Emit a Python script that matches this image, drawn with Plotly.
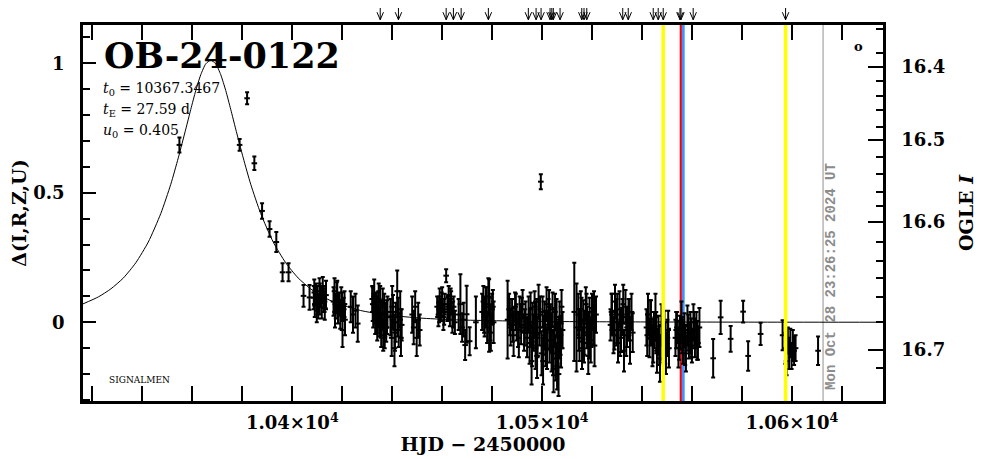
import plotly.graph_objects as go

# ---------------- data ----------------
hjd = [
    10354.8, 10378.9, 10381.9, 10384.8, 10387.9, 10390.9, 10393.6, 10396.1, 10398.5,
    10404.5, 10406.9,
    10408.6, 10409.0, 10409.5, 10410.0, 10410.4, 10410.9, 10411.3, 10411.8, 10412.2, 10412.6, 10413.0, 10413.5,
    10416.5, 10416.9, 10417.4, 10417.8, 10418.3, 10418.7, 10419.2, 10419.6, 10420.1, 10420.6, 10421.1,
    10423.4, 10424.3, 10425.3, 10426.2,
    10432.0, 10432.4, 10432.8, 10433.2, 10433.6, 10434.0, 10434.4, 10434.8, 10435.2, 10435.6, 10436.0, 10436.4,
    10436.8, 10437.2, 10437.6, 10438.1,
    10439.3, 10439.8, 10440.3, 10440.9, 10441.4, 10442.0, 10442.6, 10443.2, 10443.8,
    10448.0, 10448.6, 10449.2, 10449.8, 10450.4, 10451.0,
    10458.0, 10458.5, 10459.0, 10459.5, 10460.0, 10460.5, 10461.0, 10461.6, 10462.1, 10462.6, 10463.1, 10463.6,
    10464.1, 10464.6, 10465.1,
    10466.6, 10467.3, 10468.0, 10468.6, 10469.2, 10469.8,
    10471.0, 10473.5,
    10476.0, 10476.5, 10477.0, 10477.5, 10478.0, 10478.5, 10478.8, 10479.0, 10479.5, 10480.0, 10480.6,
    10486.2, 10486.8, 10487.4, 10488.0, 10488.6, 10489.2, 10489.8, 10490.4, 10491.0, 10491.6, 10492.2, 10492.8,
    10493.4, 10494.0,
    10494.6, 10495.0, 10495.4, 10495.8, 10496.2, 10496.6, 10497.0, 10497.4, 10497.8, 10498.2, 10498.6, 10499.0,
    10499.5, 10499.8, 10500.2, 10500.6, 10501.0, 10501.4, 10501.8, 10502.2, 10502.6, 10503.0, 10503.4, 10503.8,
    10504.2, 10504.6, 10505.0, 10505.4, 10505.8, 10506.2, 10506.6, 10507.0, 10507.4, 10507.8, 10508.2,
    10512.9, 10513.8, 10514.5, 10515.0, 10515.5, 10516.0, 10516.5, 10517.0, 10517.5, 10518.0, 10518.5, 10519.0,
    10519.5, 10520.0, 10520.5, 10521.0, 10521.6,
    10527.4, 10528.0, 10528.6, 10529.2, 10529.8, 10530.4, 10531.0, 10531.6, 10532.2, 10532.8, 10533.4, 10534.0,
    10534.6, 10535.2, 10535.8, 10536.3,
    10541.8, 10542.4, 10543.0, 10543.6, 10544.2, 10544.8, 10545.4, 10546.0, 10546.6, 10547.2, 10547.8, 10548.4,
    10549.0, 10549.6, 10550.2, 10550.8,
    10553.4, 10554.0, 10554.6, 10555.2, 10555.8, 10556.4, 10557.0, 10557.6, 10558.2, 10558.8, 10559.4, 10560.0,
    10560.6, 10561.2, 10561.8, 10562.4, 10563.0,
    10568.5, 10571.5, 10575.5, 10580.5, 10582.5, 10587.5, 10596.3,
    10597.4, 10597.9, 10598.4, 10598.9, 10599.4, 10599.9, 10600.4, 10600.9, 10601.5,
    10610.5,
]
delta = [
    0.685, 0.685, 0.865, 0.614, 0.430, 0.360, 0.310, 0.193, 0.193,
    0.102, 0.096,
    0.095, 0.070, 0.110, 0.085, 0.060, 0.120, 0.100, 0.075, 0.130, 0.090, 0.055, 0.105,
    0.080, 0.120, 0.060, 0.095, 0.045, 0.070, 0.030, 0.085, -0.030, 0.050, 0.010,
    0.060, 0.030, 0.045, -0.005,
    0.090, 0.040, 0.110, 0.020, 0.065, -0.010, 0.050, 0.000, 0.080, -0.030, 0.030, -0.050,
    0.060, 0.010, -0.020, 0.040,
    0.020, -0.060, 0.040, -0.100, 0.000, 0.120, -0.030, 0.050, -0.010,
    0.030, -0.020, 0.060, -0.060, 0.010, -0.030,
    0.060, 0.030, 0.080, 0.045, 0.090, 0.020, 0.070, 0.180, 0.050, 0.100, 0.035, 0.075,
    0.010, 0.060, 0.000,
    0.030, 0.070, -0.020, 0.010, -0.088, 0.031,
    -0.073, 0.000,
    0.040, 0.080, 0.010, 0.060, -0.020, 0.100, 0.026, 0.030, -0.040, 0.050, 0.000,
    0.010, 0.050, -0.020, 0.030, -0.050, 0.060, 0.000, -0.030, 0.040, -0.010, 0.070, -0.040,
    0.020, -0.060,
    0.030, -0.080, 0.050, -0.150, 0.000, -0.040, 0.060, -0.100, 0.020, -0.060, 0.080, -0.020,
    0.543, -0.120, 0.040, -0.050, 0.010, -0.090, 0.070, -0.030, 0.030, -0.070, 0.000, -0.110,
    0.050, -0.180, -0.020, -0.140, 0.020, -0.080, -0.200, 0.010, -0.050, 0.060, -0.030,
    0.040, -0.020, 0.030, -0.060, 0.050, -0.100, 0.010, -0.040, 0.070, -0.020, -0.130, 0.020,
    -0.070, 0.040, -0.010, -0.090, 0.030,
    -0.010, 0.030, -0.050, 0.080, 0.000, -0.080, 0.050, -0.030, 0.020, -0.110, 0.060, -0.020,
    0.010, -0.070, 0.040, -0.040,
    -0.020, 0.030, -0.060, 0.000, -0.090, -0.030, 0.020, -0.110, -0.050, -0.140, -0.010, -0.080,
    -0.040, -0.120, -0.060, -0.100,
    -0.060, -0.020, -0.100, -0.040, 0.010, -0.080, -0.030, -0.120, -0.010, -0.070, -0.040, -0.090,
    0.000, -0.060, -0.030, -0.080, -0.020,
    -0.139, 0.019, -0.064, 0.041, -0.130, -0.045, -0.050,
    -0.100, -0.150, -0.070, -0.120, -0.080, -0.130, -0.090, -0.110, -0.100,
    -0.110,
]
delta_err = [
    0.029, 0.023, 0.023, 0.026, 0.030, 0.030, 0.039, 0.035, 0.035,
    0.042, 0.048,
    0.045, 0.050, 0.040, 0.055, 0.045, 0.050, 0.040, 0.060, 0.045, 0.050, 0.045, 0.055,
    0.055, 0.050, 0.045, 0.060, 0.050, 0.045, 0.055, 0.050, 0.065, 0.045, 0.060,
    0.060, 0.070, 0.065, 0.070,
    0.050, 0.060, 0.055, 0.065, 0.050, 0.060, 0.070, 0.055, 0.060, 0.065, 0.055, 0.060,
    0.050, 0.065, 0.055, 0.060,
    0.070, 0.070, 0.065, 0.070, 0.075, 0.080, 0.065, 0.070, 0.060,
    0.070, 0.065, 0.060, 0.070, 0.065, 0.060,
    0.040, 0.045, 0.050, 0.040, 0.045, 0.050, 0.040, 0.025, 0.045, 0.040, 0.050, 0.045,
    0.050, 0.040, 0.045,
    0.060, 0.115, 0.055, 0.065, 0.058, 0.110,
    0.054, 0.100,
    0.070, 0.060, 0.065, 0.075, 0.060, 0.070, 0.140, 0.065, 0.070, 0.060, 0.080,
    0.150, 0.060, 0.070, 0.060, 0.080, 0.055, 0.070, 0.065, 0.060, 0.075, 0.055, 0.070,
    0.060, 0.075,
    0.070, 0.080, 0.065, 0.090, 0.075, 0.070, 0.060, 0.080, 0.070, 0.075, 0.065, 0.070,
    0.029, 0.085, 0.060, 0.075, 0.070, 0.080, 0.065, 0.075, 0.060, 0.085, 0.070, 0.080,
    0.065, 0.090, 0.075, 0.085, 0.070, 0.080, 0.085, 0.070, 0.075, 0.065, 0.070,
    0.190, 0.170, 0.080, 0.090, 0.070, 0.080, 0.075, 0.085, 0.065, 0.080, 0.070, 0.075,
    0.085, 0.070, 0.075, 0.080, 0.070,
    0.060, 0.080, 0.070, 0.065, 0.090, 0.075, 0.070, 0.085, 0.070, 0.080, 0.065, 0.075,
    0.080, 0.090, 0.070, 0.075,
    0.070, 0.080, 0.075, 0.085, 0.080, 0.070, 0.090, 0.085, 0.075, 0.090, 0.080, 0.075,
    0.085, 0.080, 0.070, 0.075,
    0.070, 0.060, 0.075, 0.065, 0.070, 0.080, 0.065, 0.070, 0.075, 0.070, 0.080, 0.065,
    0.070, 0.075, 0.070, 0.065, 0.075,
    0.074, 0.064, 0.050, 0.042, 0.057, 0.043, 0.058,
    0.060, 0.055, 0.050, 0.060, 0.055, 0.050, 0.060, 0.055, 0.050,
    0.055,
]

# further observations inside the densest seasons
hjd_dense = [
    10408.8, 10409.8, 10411.0, 10412.9, 10417.1, 10418.0, 10419.9, 10420.9,
    10432.2, 10433.0, 10433.8, 10434.6, 10435.4, 10436.2, 10437.0, 10437.9,
    10440.0, 10441.1, 10442.3, 10443.5,
    10458.8, 10459.8, 10460.8, 10462.4, 10463.4, 10464.4,
    10476.8, 10477.8, 10479.3, 10480.3,
    10487.1, 10488.3, 10489.5, 10490.7, 10491.9, 10493.1,
    10495.2, 10496.0, 10497.2, 10498.0, 10499.2, 10500.4, 10501.2, 10502.0, 10502.8, 10503.6,
    10504.4, 10505.2, 10506.0, 10506.8, 10507.6,
    10514.8, 10515.8, 10516.8, 10517.8, 10518.8, 10519.8, 10520.8,
    10527.8, 10529.0, 10530.1, 10531.3, 10532.5, 10533.7, 10535.0,
    10542.1, 10543.3, 10544.5, 10545.7, 10546.9, 10548.1, 10549.3, 10550.5,
    10553.7, 10554.9, 10556.1, 10557.3, 10558.5, 10559.7, 10560.9, 10562.1,
]
delta_dense = [
    0.115, 0.045, 0.090, 0.080, 0.040, 0.110, 0.060, 0.070,
    0.070, 0.050, 0.030, 0.090, 0.010, 0.070, -0.030, 0.020,
    0.060, -0.040, 0.020, -0.060,
    0.050, 0.070, 0.040, 0.060, 0.090, 0.030,
    0.030, 0.070, 0.000, 0.060,
    0.020, -0.010, 0.040, -0.060, 0.030, -0.020,
    -0.020, -0.090, 0.010, -0.130, 0.030, -0.150, -0.030, -0.100, 0.060, -0.040,
    -0.120, 0.040, -0.170, -0.060, -0.100,
    -0.030, 0.010, -0.080, 0.030, -0.050, -0.020, 0.050,
    0.040, -0.030, 0.030, -0.060, 0.070, -0.050, 0.020,
    -0.050, 0.010, -0.070, -0.040, -0.090, -0.060, -0.080, -0.030,
    -0.030, -0.070, -0.050, -0.090, -0.040, -0.060, -0.030, -0.070,
]
delta_err_dense = [
    0.050, 0.045, 0.060, 0.040, 0.060, 0.050, 0.055, 0.050,
    0.065, 0.055, 0.070, 0.060, 0.070, 0.060, 0.070, 0.065,
    0.080, 0.070, 0.075, 0.070,
    0.050, 0.045, 0.050, 0.045, 0.040, 0.050,
    0.070, 0.065, 0.070, 0.065,
    0.070, 0.065, 0.070, 0.075, 0.065, 0.070,
    0.075, 0.080, 0.070, 0.085, 0.070, 0.090, 0.075, 0.080, 0.065, 0.075,
    0.085, 0.070, 0.090, 0.080, 0.075,
    0.080, 0.085, 0.075, 0.080, 0.090, 0.075, 0.070,
    0.070, 0.075, 0.080, 0.070, 0.075, 0.080, 0.070,
    0.080, 0.075, 0.085, 0.080, 0.075, 0.085, 0.080, 0.075,
    0.070, 0.075, 0.070, 0.075, 0.070, 0.075, 0.070, 0.075,
]

# model curve values
model_hjd = [10316.2, 10322.35, 10327.35, 10332.35, 10337.35, 10342.35, 10347.35, 10351.35,
             10354.35, 10357.35, 10359.35, 10361.35, 10363.35, 10365.35, 10367.35, 10369.35,
             10371.35, 10373.35, 10375.35, 10377.35, 10380.35, 10383.35, 10387.35, 10392.35,
             10397.35, 10402.35, 10407.35, 10412.35, 10417.35, 10427.35, 10437.35, 10452.35,
             10467.35, 10497.35, 10537.35, 10587.35, 10636.5]
model_delta = [0.071, 0.098, 0.129, 0.171, 0.230, 0.310, 0.420, 0.533,
               0.635, 0.746, 0.822, 0.895, 0.956, 0.998, 1.012, 0.998,
               0.956, 0.895, 0.822, 0.746, 0.635, 0.533, 0.420, 0.310,
               0.230, 0.171, 0.129, 0.098, 0.075, 0.0455, 0.0287, 0.0155,
               0.0089, 0.0035, 0.0014, 0.0005, 0.0002]

arrow_hjd = [10435.2, 10442.5, 10461.6, 10464.5, 10467.6, 10478.5, 10494.5, 10497.6,
             10499.6, 10503.2, 10503.9, 10504.5, 10507.2, 10515.9, 10516.8, 10517.9,
             10532.3, 10534.5, 10544.5, 10546.5, 10548.5, 10555.2, 10555.6, 10560.5, 10597.5]

yellow_hjd = [10548.5, 10597.5]
red_hjd = [10555.6]
blue_hjd = [10556.5]
now_hjd = [10612.5]

x_ticks = [10400, 10500, 10600]
x_ticklabels = ["1.04×10<sup>4</sup>", "1.05×10<sup>4</sup>", "1.06×10<sup>4</sup>"]
y_ticks = [0, 0.5, 1]
y_ticklabels = ["0", "0.5", "1"]
ogle_ticks = [0.986, 0.704, 0.388, -0.107]
ogle_labels = ["16.4", "16.5", "16.6", "16.7"]
ogle_minor = [1.131, 1.039, 0.932, 0.874, 0.820, 0.755, 0.639, 0.573, 0.503, 0.449,
              0.311, 0.238, 0.171, 0.099, 0.002, -0.176]

event_name = "OB-24-0122"
param_lines = ["<i>t</i><sub>0</sub> = 10367.3467",
               "<i>t</i><sub>E</sub> = 27.59 d",
               "<i>u</i><sub>0</sub> = 0.405"]
timestamp = "Mon Oct 28 23:26:25 2024 UT"

XR = [10316.2, 10636.5]
YR = [-0.304, 1.148]
SERIF = "DejaVu Serif"

fig = go.Figure()

fig.add_trace(go.Scatter(
    x=model_hjd, y=model_delta, mode="lines", yaxis="y2",
    line=dict(color="black", width=1, shape="spline", smoothing=0.6),
    hoverinfo="skip", showlegend=False))

fig.add_trace(go.Scatter(
    x=hjd + hjd_dense, y=delta + delta_dense, mode="markers",
    marker=dict(symbol="line-ew", size=4, color="black", line=dict(width=2, color="black")),
    error_y=dict(type="data", array=delta_err + delta_err_dense, visible=True,
                 color="black", thickness=2, width=2),
    showlegend=False))

shapes = []
for t in red_hjd:
    shapes.append(dict(type="line", xref="x", yref="paper", x0=t, x1=t, y0=0, y1=1,
                       line=dict(color="#ff0000", width=2.5), layer="below"))
for t in blue_hjd:
    shapes.append(dict(type="line", xref="x", yref="paper", x0=t, x1=t, y0=0, y1=1,
                       line=dict(color="#3f93ff", width=3), layer="below"))
for t in yellow_hjd:
    shapes.append(dict(type="line", xref="x", yref="paper", x0=t, x1=t, y0=0, y1=1,
                       line=dict(color="#ffff00", width=3.5), layer="above"))
for t in now_hjd:
    shapes.append(dict(type="line", xref="x", yref="paper", x0=t, x1=t, y0=0, y1=1,
                       line=dict(color="#909090", width=1), layer="below"))
for t in arrow_hjd:
    path = (f"M {t},1.064 L {t},1.014 M {t-1.3},1.034 L {t},1.014 L {t+1.3},1.034")
    shapes.append(dict(type="path", xref="x", yref="paper", path=path,
                       line=dict(color="black", width=1)))

annotations = [
    dict(text=event_name, xref="paper", yref="paper", x=0.024, y=0.92, xanchor="left",
         yanchor="middle", showarrow=False,
         font=dict(family=SERIF, size=35, color="black", weight="bold")),
]
for i, line in enumerate(param_lines):
    annotations.append(dict(text=line, xref="paper", yref="paper", x=0.022, y=0.830 - 0.056 * i,
                            xanchor="left", yanchor="middle", showarrow=False,
                            font=dict(family=SERIF, size=14, color="black")))
annotations.append(dict(text="SIGNALMEN", xref="paper", yref="paper", x=0.03, y=0.056,
                        xanchor="left", yanchor="middle", showarrow=False,
                        font=dict(family=SERIF, size=9, color="black")))
annotations.append(dict(text="o", xref="paper", yref="paper", x=0.969, y=0.944,
                        xanchor="center", yanchor="middle", showarrow=False,
                        font=dict(family=SERIF, size=13, color="black", weight="bold")))
annotations.append(dict(text=timestamp, xref="paper", yref="paper", x=0.935, y=0.33,
                        xanchor="center", yanchor="middle", showarrow=False, textangle=-90,
                        font=dict(family="Liberation Mono", size=14, color="#8c8c8c", weight="bold")))

tickfont = dict(family=SERIF, size=18, color="black", weight="bold")
titlefont = dict(family=SERIF, size=19, color="black", weight="bold")

# the page body has an 8px margin, so the figure is sized/offset to compensate
fig.update_layout(
    width=978, height=451,
    margin=dict(l=75, r=103, t=17, b=58, autoexpand=False),
    paper_bgcolor="white", plot_bgcolor="white",
    showlegend=False,
    shapes=shapes, annotations=annotations,
    xaxis=dict(range=XR, tickmode="array", tickvals=x_ticks, ticktext=x_ticklabels,
               ticks="inside", ticklen=15, tickwidth=2, tickcolor="black",
               minor=dict(tickmode="linear", tick0=10300, dtick=20, ticks="inside",
                          ticklen=6, tickwidth=2, tickcolor="black"),
               showline=True, linewidth=2.5, linecolor="black", mirror="allticks",
               showgrid=False, zeroline=False, tickfont=tickfont, ticklabelstandoff=4,
               title=dict(text="HJD − 2450000", font=titlefont, standoff=6)),
    yaxis=dict(range=YR, tickmode="array", tickvals=y_ticks, ticktext=y_ticklabels,
               ticks="inside", ticklen=13, tickwidth=2, tickcolor="black",
               minor=dict(tickmode="linear", tick0=0, dtick=0.1, ticks="inside",
                          ticklen=7, tickwidth=2, tickcolor="black"),
               showline=True, linewidth=2.5, linecolor="black",
               showgrid=False, zeroline=False, tickfont=tickfont, ticklabelstandoff=12,
               title=dict(text="Δ(I,R,Z,U)", font=titlefont, standoff=10)),
    yaxis2=dict(range=YR, overlaying="y", side="right", anchor="x",
                tickmode="array", tickvals=ogle_ticks, ticktext=ogle_labels,
                ticks="inside", ticklen=15, tickwidth=2, tickcolor="black",
                minor=dict(tickmode="array", tickvals=ogle_minor, ticks="inside",
                           ticklen=7, tickwidth=2, tickcolor="black"),
                showline=True, linewidth=2.5, linecolor="black",
                showgrid=False, zeroline=False, tickfont=tickfont, ticklabelstandoff=12,
                title=dict(text="OGLE <i>I</i>", font=titlefont, standoff=16)),
)

fig.write_html("out.html")
